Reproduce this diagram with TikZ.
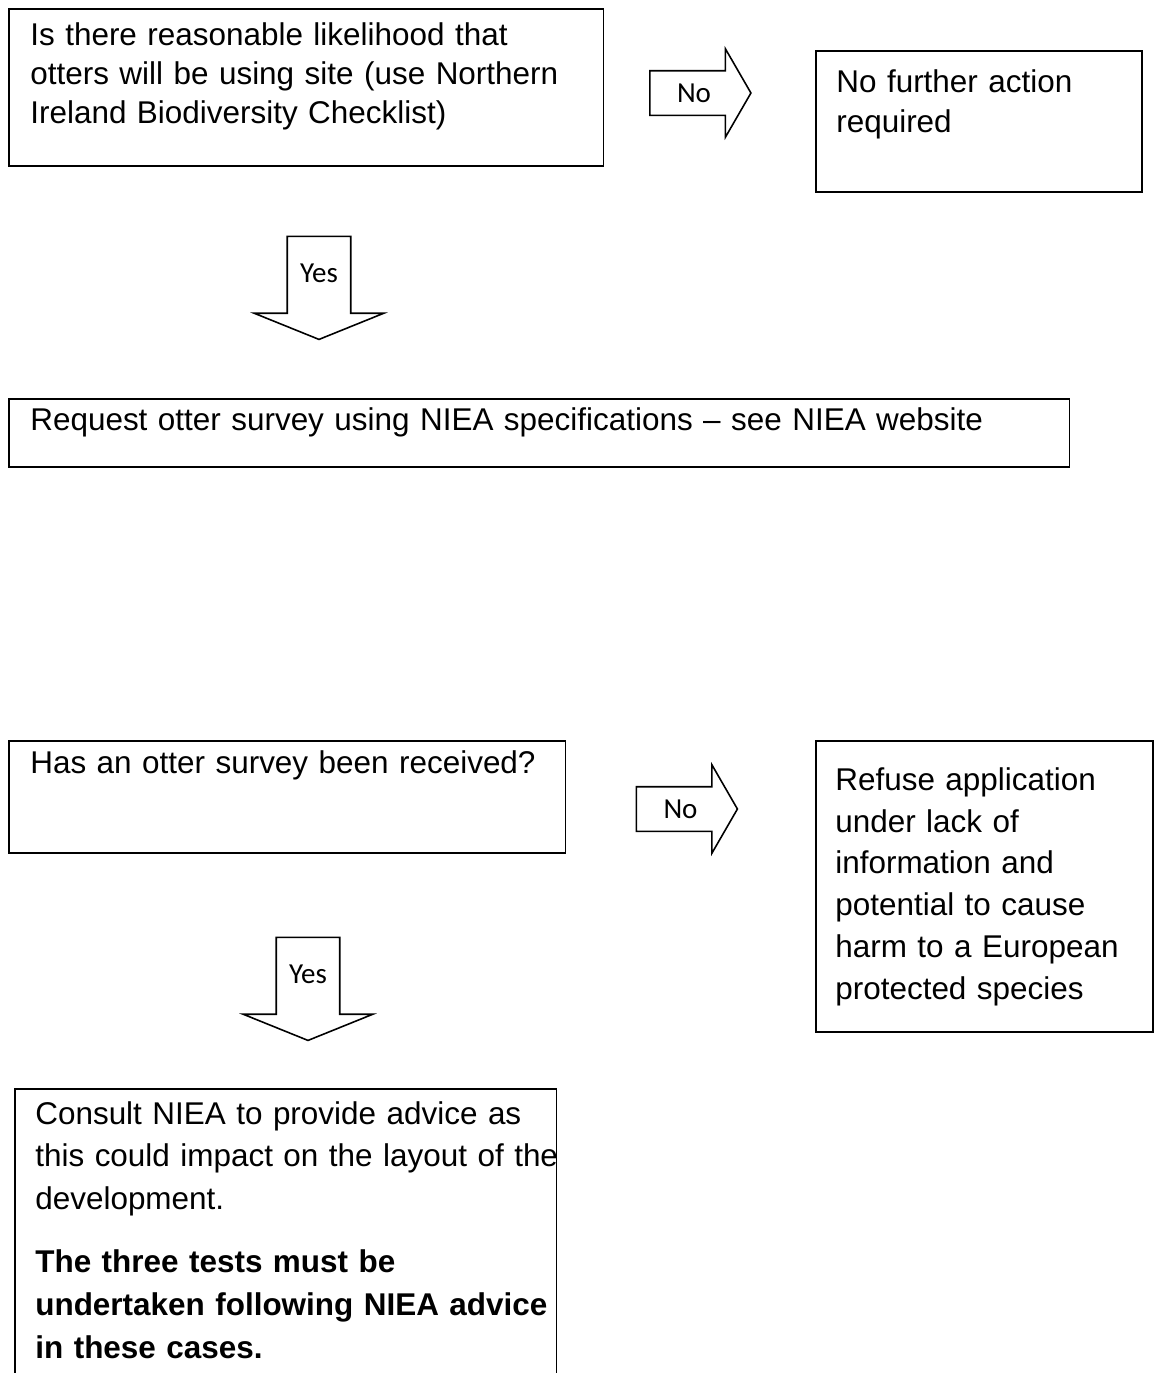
\documentclass[tikz,border=0pt]{standalone}
\usepackage{fontspec}
\setmainfont{Liberation Sans}
\newfontfamily\yesnofont{Carlito}
\usetikzlibrary{shapes.arrows}

\begin{document}
\begin{tikzpicture}[x=0.02cm, y=-0.02cm,
    every node/.style={inner sep=0pt},
    flowbox/.style={draw, line width=0.9pt, anchor=north west},
    flowtext/.style={anchor=base west, align=left, text width=#1},
    blockarrow/.style={single arrow, draw, line width=0.9pt, align=center,
        single arrow head indent=0pt, font=\yesnofont\fontsize{16.5}{19}\selectfont},
    noarrow/.style={blockarrow, text width=1.52cm, text height=0.617cm, text depth=0.243cm,
        minimum height=2.02cm, single arrow head extend=0.44cm, single arrow tip angle=120},
    yesarrow/.style={blockarrow, shape border rotate=270, text width=1.24cm,
        text height=0.787cm, text depth=0.753cm, minimum height=2.06cm,
        single arrow head extend=0.66cm, single arrow tip angle=136}
]
\clip (0,0) rectangle (1154,1373);

% first question
\node[flowbox, minimum width=11.9cm, minimum height=3.14cm] (likely) at (8,8) {};
\node[flowtext=11.4cm, font=\fontsize{17.9}{22.2}\selectfont] (likelytxt) at (30,45)
    {Is there reasonable likelihood that\\ otters will be using site (use Northern\\ Ireland Biodiversity Checklist)};

\node[flowbox, minimum width=6.52cm, minimum height=2.82cm] (noaction) at (815,50) {};
\node[flowtext=6cm, font=\fontsize{17.9}{23.3}\selectfont] (noactiontxt) at (836,92)
    {No further action\\ required};

\node[noarrow] (no1) at (694,93) {No};
\node[yesarrow] (yes1) at (319,281.5) {Yes};

% survey request
\node[flowbox, minimum width=21.22cm, minimum height=1.36cm] (request) at (8,398) {};
\node[flowtext=20.5cm, font=\fontsize{17.9}{22.2}\selectfont] (requesttxt) at (30,430)
    {Request otter survey using NIEA specifications -- see NIEA website};

% second question
\node[flowbox, minimum width=11.14cm, minimum height=2.24cm] (received) at (8,740) {};
\node[flowtext=10.6cm, font=\fontsize{17.9}{22.2}\selectfont] (receivedtxt) at (30,773)
    {Has an otter survey been received?};

\node[noarrow] (no2) at (680.5,809) {No};

\node[flowbox, minimum width=6.74cm, minimum height=5.82cm] (refuse) at (815,740) {};
\node[flowtext=6.3cm, font=\fontsize{17.9}{23.9}\selectfont] (refusetxt) at (835,790)
    {Refuse application\\ under lack of\\ information and\\ potential to cause\\ harm to a European\\ protected species};

\node[yesarrow] (yes2) at (308,982.5) {Yes};

% outcome, runs off the page
\node[flowbox, minimum width=10.84cm, minimum height=8cm] (consult) at (14,1088) {};
\node[flowtext=11.5cm, font=\fontsize{17.9}{24.4}\selectfont] (consulttxt) at (35,1124)
    {Consult NIEA to provide advice as\\ this could impact on the layout of the\\ development.\\[0.4cm]
     \textbf{The three tests must be}\\ \textbf{undertaken following NIEA advice}\\ \textbf{in these cases.}};

\end{tikzpicture}
\end{document}
